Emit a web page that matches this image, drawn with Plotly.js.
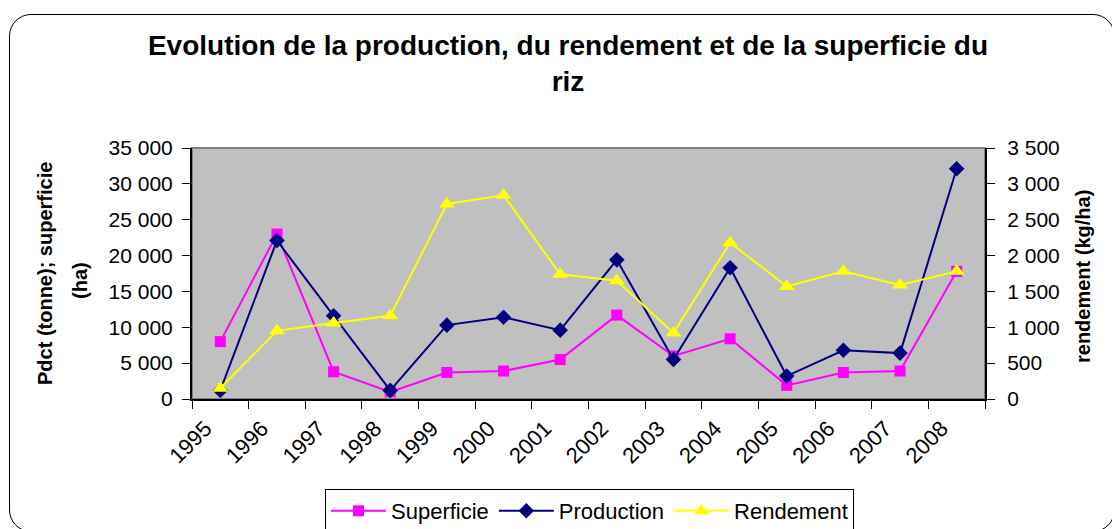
<!DOCTYPE html>
<html><head><meta charset="utf-8">
<script src="https://cdn.plot.ly/plotly-3.0.1.min.js"></script>
<style>
html,body{margin:0;padding:0;background:#fff;}
#chart{width:1112px;height:529px;position:absolute;left:0;top:0;}
#frame{position:absolute;left:9px;top:14px;width:1106px;height:518px;border:1px solid #000;border-radius:22px;pointer-events:none;box-sizing:border-box;}
</style>
</head><body>
<div id="chart"></div><div id="frame"></div>
<script>
const years = ['1995','1996','1997','1998','1999','2000','2001','2002','2003','2004','2005','2006','2007','2008'];
const superficie = [8000,23000,3800,1000,3700,3900,5500,11700,6000,8400,1900,3700,3900,17800];
const production = [1200,22100,11600,1200,10300,11400,9600,19400,5500,18300,3200,6800,6400,32100];
const rendement = [150,950,1060,1160,2720,2840,1740,1650,920,2180,1570,1780,1590,1780];
const leftTickVals = [0,5000,10000,15000,20000,25000,30000,35000];
const leftTickText = ['0','5 000','10 000','15 000','20 000','25 000','30 000','35 000'];
const rightTickVals = [0,500,1000,1500,2000,2500,3000,3500];
const rightTickText = ['0','500','1 000','1 500','2 000','2 500','3 000','3 500'];

const W = 1112, H = 529, L = 192, R = 985, T = 148, B = 399;
const px = x => (x - L) / (R - L);
const py = y => (B - y) / (B - T);
const FONT = 'Liberation Sans, Arial, sans-serif';

const traces = [
  {x: years, y: superficie, name: 'Superficie', type: 'scatter', mode: 'lines+markers',
   line: {color: '#FF00FF', width: 2}, marker: {symbol: 'square', size: 11, color: '#FF00FF'}},
  {x: years, y: production, name: 'Production', type: 'scatter', mode: 'lines+markers',
   line: {color: '#000080', width: 2}, marker: {symbol: 'diamond', size: 12, color: '#000080'}},
  {x: years, y: rendement, name: 'Rendement', type: 'scatter', mode: 'lines+markers', yaxis: 'y2',
   line: {color: '#FFFF00', width: 2}, marker: {symbol: 'triangle-up', size: 14, color: '#FFFF00'}}
];

const layout = {
  width: W, height: H,
  margin: {l: L, r: W - R, t: T, b: H - B, autoexpand: false},
  paper_bgcolor: 'rgba(0,0,0,0)',
  plot_bgcolor: '#C0C0C0',
  font: {family: FONT, color: '#000', size: 21},
  showlegend: true,
  title: {text: 'Evolution de la production, du rendement et de la superficie du<br>riz',
          font: {family: FONT, size: 28, color: '#000', weight: 'bold'},
          x: 568 / W, xanchor: 'center', xref: 'container', yref: 'container', y: 1 - 55 / H, yanchor: 'top',
          automargin: false},
  xaxis: {type: 'category', range: [-0.5, 13.5], tickson: 'boundaries', ticks: 'outside', ticklen: 8,
          tickcolor: '#000', showline: true, linecolor: '#000', linewidth: 2, showgrid: false,
          tickangle: -45, tickfont: {size: 22, family: FONT}, zeroline: false, automargin: false,
          ticklabelshift: -15, ticklabelstandoff: 6},
  yaxis: {range: [0, 35000], tickvals: leftTickVals, ticktext: leftTickText, ticks: 'outside', ticklen: 8,
          tickcolor: '#000', showline: true, linecolor: '#000', linewidth: 2, showgrid: false, zeroline: false,
          tickfont: {size: 21, family: FONT}, automargin: false, ticklabelstandoff: 5},
  yaxis2: {range: [0, 3500], tickvals: rightTickVals, ticktext: rightTickText, overlaying: 'y', side: 'right',
           ticks: 'outside', ticklen: 8, tickcolor: '#000', showline: true, linecolor: '#000', linewidth: 2,
           showgrid: false, zeroline: false, tickfont: {size: 21, family: FONT}, automargin: false,
           ticklabelstandoff: 8},
  shapes: [{type: 'rect', xref: 'paper', yref: 'paper', x0: 0, x1: 1, y0: 0, y1: 1,
            line: {color: '#808080', width: 2}, layer: 'below'}],
  legend: {orientation: 'h', x: px(589.5), xanchor: 'center', y: py(489), yanchor: 'top',
           bordercolor: '#000', borderwidth: 1, bgcolor: '#fff', font: {size: 22, family: FONT},
           itemwidth: 55, traceorder: 'normal', tracegroupgap: 0},
  annotations: [
    {text: 'Pdct (tonne); superficie', xref: 'paper', yref: 'paper', x: px(45), y: py(274),
     xanchor: 'center', yanchor: 'middle', textangle: -90, showarrow: false,
     font: {size: 20, family: FONT, weight: 'bold'}},
    {text: '(ha)', xref: 'paper', yref: 'paper', x: px(80), y: py(280),
     xanchor: 'center', yanchor: 'middle', textangle: -90, showarrow: false,
     font: {size: 20, family: FONT, weight: 'bold'}},
    {text: 'rendement (kg/ha)', xref: 'paper', yref: 'paper', x: px(1083), y: py(277),
     xanchor: 'center', yanchor: 'middle', textangle: -90, showarrow: false,
     font: {size: 20, family: FONT, weight: 'bold'}}
  ]
};

Plotly.newPlot('chart', traces, layout, {displayModeBar: false, staticPlot: true});
</script>
</body></html>
